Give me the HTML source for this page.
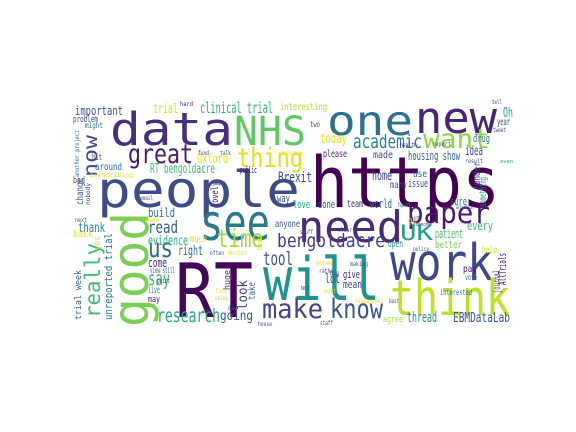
<!DOCTYPE html>
<html><head><meta charset="utf-8">
<style>
html,body{margin:0;padding:0;background:#fff;width:576px;height:432px;overflow:hidden}
svg text{font-family:"DejaVu Sans Mono","Liberation Mono",monospace}
</style></head>
<body>
<svg id="cloud" width="576" height="432" viewBox="0 0 576 432" xmlns="http://www.w3.org/2000/svg">
<rect x="0" y="0" width="576" height="432" fill="#ffffff"/>
</svg>
<script>
// word, x, baseline y, font size, length, color, rotated
const words = [
["https",310,207,70,190,"#440154",0],
["RT",175,317,75,78,"#450559",0],
["people",97,207,50,203,"#3e4c8a",0],
["data",110,145,45,123,"#46307e",0],
["NHS",234,145,40,72,"#5ec962",0],
["one",327,135,41,86,"#2c728e",0],
["new",415,133,44,82,"#482475",0],
["need",298,242,44,105,"#472a7a",0],
["see",200,240,50,70,"#29798e",0],
["will",263,300,60,117,"#20938c",0],
["work",390,280,51,103,"#3f4889",0],
["think",390,315,49,120,"#c0df25",0],
["good",148,327,50,115,"#7ad151",1],
["paper",407,223,29,83,"#48186a",0],
["great",128,163,27,65,"#481c6e",0],
["thing",237,167,27,66,"#dde318",0],
["want",423,148,27,67,"#8fd744",0],
["academic",353,148,19,69,"#26828e",0],
["UK",400,240,21,33,"#1f9e89",0],
["bengoldacre",277,247,19,108,"#433e85",0],
["time",217,247,25,46,"#a2da37",0],
["us",148,257,27,25,"#31688e",0],
["read",148,233,17,30,"#365c8d",0],
["tool",263,265,19,30,"#3b528b",0],
["make",262,318,27,61,"#414487",0],
["know",330,318,27,53,"#3b528b",0],
["research",157,322,19,63,"#22a884",0],
["going",220,320,13,33,"#39558c",0],
["really",100,318,21,75,"#3fbc73",1],
["now",97,177,19,42,"#3e4a89",1],
["say",148,285,19,22,"#35b779",0],
["evidence",148,245,13,40,"#2ab07f",0],
["right",178,255,13,25,"#2e6f8e",0],
["come",148,267,12,19,"#482979",0],
["build",148,217,12,27,"#2c728e",0],
["thank",78,232,13,27,"#26828e",0],
["unreported trial",112,320,11,87,"#2a788e",1],
["trial week",81,320,9,50,"#33638d",1],
["important",75,115,12,48,"#3b528b",0],
["trial",153,113,13,25,"#d8e219",0],
["clinical trial",200,113,15,73,"#29af7f",0],
["interesting",280,110,10,47,"#b5de2b",0],
["Oxford",197,163,13,31,"#e5e419",0],
["RT bengoldacre",150,173,13,65,"#3fbc73",0],
["Brexit",278,182,14,34,"#3e4989",0],
["home",372,180,13,20,"#453781",0],
["housing show",408,160,12,52,"#355f8d",0],
["made",373,158,10,20,"#404688",0],
["today",320,143,13,27,"#e2e418",0],
["please",323,157,10,24,"#482071",0],
["idea",465,155,13,18,"#3c4f8a",0],
["drug",473,142,11,17,"#2d708e",0],
["year",497,125,10,13,"#404387",0],
["Oh",503,117,13,10,"#20a386",0],
["use",413,177,10,14,"#31688e",0],
["issue",408,187,11,20,"#433e85",0],
["many",390,188,10,17,"#3b528b",0],
["world",370,208,12,22,"#2c728e",0],
["team",347,207,10,16,"#472a7a",0],
["done",318,208,11,17,"#3b528b",0],
["love",293,208,11,17,"#26ad81",0],
["sure",450,205,11,17,"#287d8e",0],
["every",467,230,12,26,"#34b679",0],
["patient",435,238,12,28,"#4ac16d",0],
["better",435,248,10,27,"#75d054",0],
["help",482,253,10,15,"#d2e21b",0],
["open",388,247,10,15,"#25858e",0],
["pay",463,272,10,14,"#481668",0],
["vote",465,280,8,12,"#31688e",0],
["interested",440,295,8,32,"#2a788e",0],
["EBMDataLab",453,322,13,57,"#3b528b",0],
["thread",407,322,14,30,"#23898e",0],
["agree",383,322,9,20,"#a8db34",0],
["lot",325,283,13,15,"#3b528b",0],
["give",343,278,11,17,"#481f70",0],
["mean",343,288,11,19,"#404688",0],
["look",247,310,13,30,"#424186",1],
["take",255,300,10,18,"#33638d",1],
["huge",230,290,9,20,"#46337e",1],
["much",190,242,10,17,"#e7e419",0],
["anyone",275,227,10,25,"#3a548c",0],
["journal",500,293,10,23,"#443a83",1],
["AllTrials",506,285,11,32,"#48186a",1],
["something",486,207,10,30,"#1fa088",1],
["way",277,202,11,13,"#3e4c8a",0],
["public",240,173,9,17,"#481467",0],
["lovely",218,207,10,25,"#482173",1],
["bit",92,160,9,10,"#3e4a89",0],
["yes",100,250,9,14,"#e3e418",1],
["around",95,170,10,27,"#2d718e",0],
["prescribing",90,177,6,43,"#dae319",0],
["bad",73,183,9,12,"#414487",0],
["problem",73,122,9,25,"#3f4788",0],
["might",85,128,8,18,"#2f6b8e",0],
["live",148,293,10,12,"#24878e",0],
["may",148,302,9,12,"#482475",0],
["back",73,237,10,20,"#f1e51d",0],
["view still",150,273,8,25,"#31688e",0],
["point",157,283,7,13,"#3e4a89",0],
["change",83,205,10,27,"#3b528b",1],
["nobody",90,205,6,22,"#3f4788",1],
["another project",79,177,6,47,"#2d708e",1],
["two",310,127,8,10,"#3f4788",0],
["hard",180,106,6,13,"#482878",0],
["tell",492,104,6,10,"#3e4a89",0],
["tweet",493,132,6,13,"#3b528b",0],
["health",400,147,6,17,"#481a6c",0],
["report",432,146,6,19,"#3e4c8a",0],
["result",465,163,6,18,"#3b528b",0],
["even",500,163,5,13,"#20a486",0],
["funder",480,190,10,28,"#414487",1],
["hard",398,207,6,12,"#33638d",0],
["always",456,209,6,17,"#3b528b",0],
["put",410,220,6,10,"#3b528b",0],
["go",408,223,8,9,"#e5e419",0],
["someone",413,226,5,18,"#3e4a89",0],
["policy",413,251,6,16,"#3b528b",0],
["clear",338,232,6,14,"#3b528b",0],
["money",316,265,6,17,"#e5e419",0],
["making",350,266,6,18,"#3b528b",0],
["rather",319,273,6,17,"#3b528b",0],
["big",330,275,6,9,"#3b528b",0],
["must",324,293,6,12,"#e5e419",0],
["NCT",301,290,5,9,"#3b528b",0],
["researcher",355,303,6,28,"#e5e419",0],
["best",389,303,6,10,"#3b528b",0],
["staff",320,325,6,13,"#3b528b",0],
["house",258,326,6,14,"#3b528b",0],
["find",215,293,6,11,"#e5e419",0],
["using",215,300,6,13,"#b5de2b",0],
["day",228,310,6,9,"#3b528b",0],
["etc",203,313,6,9,"#3b528b",0],
["often",210,255,6,14,"#3b528b",0],
["doctor",228,255,6,19,"#e5e419",0],
["book",262,250,7,13,"#e5e419",1],
["stuff",300,234,6,13,"#3b528b",0],
["next",75,222,6,12,"#3b528b",0],
["share",145,222,6,14,"#e5e419",0],
["medicine",280,155,6,23,"#e5e419",0],
["fund",198,155,6,11,"#3b528b",0],
["talk",220,155,6,11,"#3b528b",0],
["email",140,200,6,13,"#3b528b",0]
];

const svg = document.getElementById('cloud');
const NS = 'http://www.w3.org/2000/svg';
for (const w of words) {
  const t = document.createElementNS(NS, 'text');
  
  
  if (w[6]) {
    t.setAttribute('transform', 'translate(' + w[1] + ',' + w[2] + ') rotate(-90)');
    t.setAttribute('x', 0);
    t.setAttribute('y', 0);
  } else {
    t.setAttribute('x', w[1]);
    t.setAttribute('y', w[2]);
  }
  t.setAttribute('font-size', w[3]);
  t.setAttribute('textLength', w[4]);
  t.setAttribute('lengthAdjust', 'spacingAndGlyphs');
  t.setAttribute('fill', w[5]);
  t.textContent = w[0];
  svg.appendChild(t);
}
</script>
</body></html>
